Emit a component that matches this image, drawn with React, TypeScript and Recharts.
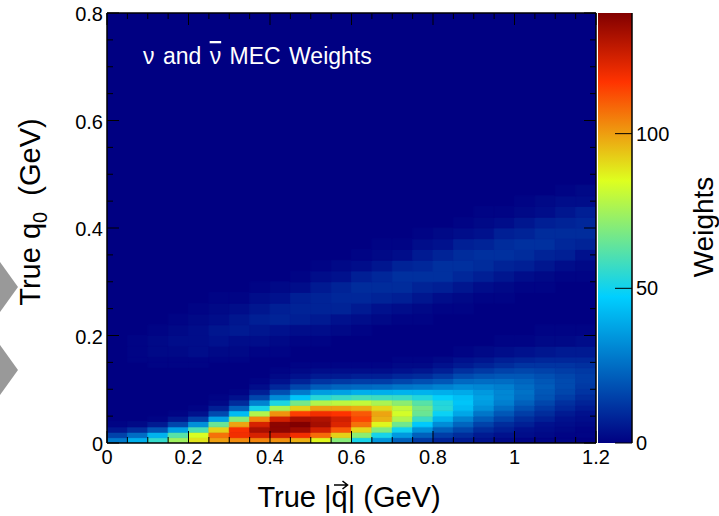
import React from "react";
import { ComposedChart, XAxis, YAxis, ReferenceArea, Scatter } from "recharts";

// bin edges of the 2D histogram (|q| across, q0 up)
const qEdges = [0, 0.05, 0.1, 0.15, 0.2, 0.25, 0.3, 0.35, 0.4, 0.45, 0.5, 0.55, 0.6, 0.65, 0.7, 0.75, 0.8, 0.85, 0.9, 0.95, 1, 1.05, 1.1, 1.15, 1.2];
const q0Edges = [
  0, 0.01, 0.02, 0.03, 0.04, 0.05, 0.06, 0.07, 0.08, 0.09, 0.1, 0.11, 0.12, 0.13, 0.14, 0.15, 0.16,
  0.18, 0.2, 0.22, 0.24, 0.26, 0.28, 0.3, 0.32, 0.34, 0.36, 0.38, 0.4, 0.42, 0.44, 0.46, 0.48,
];

// weights, one row per q0 bin (bottom first), one value per |q| bin
const weights = [
  [28, 40, 56, 74, 89, 100, 103, 104, 102, 97, 86, 70, 51, 34, 22, 13, 8, 6, 4, 2, 1, 1, 1, 0],
  [15, 25, 41, 62, 84, 107, 119, 124, 125, 119, 108, 92, 71, 51, 35, 22, 14, 10, 6, 4, 3, 2, 1, 1],
  [5, 10, 19, 37, 60, 92, 118, 132, 137, 134, 125, 111, 91, 69, 50, 33, 22, 16, 10, 7, 4, 3, 2, 1],
  [1, 2, 6, 16, 33, 65, 99, 124, 137, 139, 133, 123, 107, 86, 66, 46, 32, 23, 15, 10, 7, 4, 3, 2],
  [0, 0, 1, 5, 14, 37, 70, 104, 125, 132, 131, 125, 114, 97, 77, 57, 41, 30, 21, 15, 10, 7, 4, 3],
  [0, 0, 0, 1, 4, 17, 43, 77, 102, 115, 119, 117, 111, 99, 83, 65, 49, 38, 27, 20, 14, 10, 6, 4],
  [0, 0, 0, 0, 1, 7, 22, 51, 76, 92, 100, 100, 98, 91, 80, 67, 54, 43, 33, 25, 18, 13, 9, 6],
  [0, 0, 0, 0, 0, 2, 10, 30, 52, 67, 77, 79, 80, 76, 71, 62, 53, 45, 36, 29, 22, 16, 11, 8],
  [0, 0, 0, 0, 0, 1, 4, 16, 32, 45, 54, 57, 59, 58, 57, 53, 48, 44, 37, 31, 25, 19, 14, 10],
  [0, 0, 0, 0, 0, 0, 1, 7, 18, 28, 36, 37, 40, 40, 41, 41, 40, 39, 35, 31, 26, 20, 16, 12],
  [0, 0, 0, 0, 0, 0, 0, 3, 9, 16, 21, 23, 24, 25, 27, 28, 30, 32, 31, 29, 25, 21, 17, 13],
  [0, 0, 0, 0, 0, 0, 0, 1, 4, 8, 12, 13, 14, 14, 16, 18, 20, 24, 25, 25, 23, 20, 17, 14],
  [0, 0, 0, 0, 0, 0, 0, 0, 2, 4, 6, 6, 7, 7, 9, 10, 13, 17, 19, 20, 20, 18, 16, 14],
  [0, 0, 0, 0, 0, 0, 0, 0, 1, 2, 3, 3, 3, 3, 4, 5, 7, 11, 13, 15, 16, 15, 14, 13],
  [0, 0, 1, 1, 1, 0, 0, 0, 0, 1, 1, 1, 1, 1, 2, 2, 4, 6, 8, 10, 12, 12, 12, 11],
  [0, 1, 1, 1, 1, 1, 1, 0, 0, 0, 0, 0, 0, 0, 1, 1, 2, 4, 5, 7, 8, 9, 9, 9],
  [0, 1, 2, 2, 3, 2, 2, 1, 1, 0, 0, 0, 0, 0, 0, 0, 0, 1, 2, 3, 4, 5, 6, 6],
  [0, 1, 2, 3, 3, 4, 3, 3, 2, 1, 1, 0, 0, 0, 0, 0, 0, 0, 0, 1, 1, 2, 2, 3],
  [0, 0, 1, 2, 3, 5, 6, 5, 4, 3, 3, 2, 1, 0, 0, 0, 0, 0, 0, 0, 0, 1, 1, 1],
  [0, 0, 0, 1, 2, 3, 5, 7, 8, 7, 6, 4, 3, 2, 1, 1, 0, 0, 0, 0, 0, 0, 0, 0],
  [0, 0, 0, 0, 1, 2, 3, 5, 7, 8, 8, 8, 6, 4, 3, 2, 1, 1, 0, 0, 0, 0, 0, 0],
  [0, 0, 0, 0, 0, 1, 1, 3, 4, 7, 8, 9, 9, 8, 7, 5, 3, 2, 1, 1, 0, 0, 0, 0],
  [0, 0, 0, 0, 0, 0, 0, 1, 2, 3, 6, 8, 10, 10, 10, 8, 7, 5, 3, 2, 1, 1, 0, 0],
  [0, 0, 0, 0, 0, 0, 0, 0, 0, 1, 3, 4, 7, 9, 11, 11, 11, 9, 7, 5, 3, 2, 1, 1],
  [0, 0, 0, 0, 0, 0, 0, 0, 0, 0, 1, 2, 3, 5, 8, 9, 11, 11, 10, 8, 7, 5, 3, 2],
  [0, 0, 0, 0, 0, 0, 0, 0, 0, 0, 0, 0, 1, 2, 3, 6, 8, 10, 11, 11, 10, 8, 7, 4],
  [0, 0, 0, 0, 0, 0, 0, 0, 0, 0, 0, 0, 0, 1, 1, 3, 4, 7, 8, 10, 11, 11, 9, 8],
  [0, 0, 0, 0, 0, 0, 0, 0, 0, 0, 0, 0, 0, 0, 0, 1, 2, 3, 4, 7, 8, 10, 10, 10],
  [0, 0, 0, 0, 0, 0, 0, 0, 0, 0, 0, 0, 0, 0, 0, 0, 0, 1, 2, 3, 5, 7, 8, 9],
  [0, 0, 0, 0, 0, 0, 0, 0, 0, 0, 0, 0, 0, 0, 0, 0, 0, 0, 1, 1, 2, 3, 5, 7],
  [0, 0, 0, 0, 0, 0, 0, 0, 0, 0, 0, 0, 0, 0, 0, 0, 0, 0, 0, 0, 1, 2, 3, 3],
  [0, 0, 0, 0, 0, 0, 0, 0, 0, 0, 0, 0, 0, 0, 0, 0, 0, 0, 0, 0, 0, 0, 1, 2],
];

// axis ticks
const xTicks = [0, 0.05, 0.1, 0.15, 0.2, 0.25, 0.3, 0.35, 0.4, 0.45, 0.5, 0.55, 0.6, 0.65, 0.7, 0.75, 0.8, 0.85, 0.9, 0.95, 1, 1.05, 1.1, 1.15, 1.2];
const xMajor = [0, 0.2, 0.4, 0.6, 0.8, 1, 1.2];
const xLabels = ["0", "0.2", "0.4", "0.6", "0.8", "1", "1.2"];
const yTicks = [0, 0.05, 0.1, 0.15, 0.2, 0.25, 0.3, 0.35, 0.4, 0.45, 0.5, 0.55, 0.6, 0.65, 0.7, 0.75, 0.8];
const yMajor = [0, 0.2, 0.4, 0.6, 0.8];
const yLabels = ["0", "0.2", "0.4", "0.6", "0.8"];
const zTicks = [0, 50, 100];
const zLabels = ["0", "50", "100"];
const zMax = 139;

const FONT = "'Liberation Sans', Arial, Helvetica, sans-serif";

// ROOT-style rainbow palette
const palStops = [0, 0.34, 0.61, 0.84, 1];
const palR = [0, 0, 0.87, 1, 0.51];
const palG = [0, 0.81, 1, 0.2, 0];
const palB = [0.51, 1, 0.12, 0, 0];

function palColor(t: number) {
  const u = Math.max(0, Math.min(1, t));
  let i = 0;
  while (i < palStops.length - 2 && u > palStops[i + 1]) i++;
  const f = (u - palStops[i]) / (palStops[i + 1] - palStops[i]);
  const ch = (a: number[]) => Math.round(255 * (a[i] + (a[i + 1] - a[i]) * f));
  return `rgb(${ch(palR)},${ch(palG)},${ch(palB)})`;
}

const weightColor = (w: number) => palColor(w / zMax);

function labelFor(v: number, majors: number[], labels: string[]) {
  const i = majors.findIndex((m) => Math.abs(m - v) < 1e-6);
  return i >= 0 ? labels[i] : null;
}

// cell centres, used as the (invisible) series that carries the axes
const cellPoints = weights.flatMap((row, r) =>
  row.map((w, c) => ({ q: (qEdges[c] + qEdges[c + 1]) / 2, q0: (q0Edges[r] + q0Edges[r + 1]) / 2, w }))
);
const scalePoints = [
  { x: 0.5, z: 0 },
  { x: 0.5, z: zMax },
];

const NoShape = () => <g />;

const BottomTick = (props: any) => {
  const { x, y, payload } = props;
  const label = labelFor(payload.value, xMajor, xLabels);
  return (
    <g>
      <line x1={x} y1={y} x2={x} y2={y - (label ? 12 : 6)} stroke="#000" strokeWidth={1} />
      {label && (
        <text x={x} y={y + 21} textAnchor="middle" fontSize={20} fontFamily={FONT} fill="#000">
          {label}
        </text>
      )}
    </g>
  );
};

const TopTick = (props: any) => {
  const { x, y, payload } = props;
  const major = labelFor(payload.value, xMajor, xLabels);
  return <line x1={x} y1={y} x2={x} y2={y + (major ? 12 : 6)} stroke="#000" strokeWidth={1} />;
};

const LeftTick = (props: any) => {
  const { x, y, payload } = props;
  const label = labelFor(payload.value, yMajor, yLabels);
  return (
    <g>
      <line x1={x} y1={y} x2={x + (label ? 12 : 6)} y2={y} stroke="#000" strokeWidth={1} />
      {label && (
        <text x={x - 4} y={y + 8} textAnchor="end" fontSize={20} fontFamily={FONT} fill="#000">
          {label}
        </text>
      )}
    </g>
  );
};

const RightTick = (props: any) => {
  const { x, y, payload } = props;
  const major = labelFor(payload.value, yMajor, yLabels);
  return <line x1={x} y1={y} x2={x - (major ? 12 : 6)} y2={y} stroke="#000" strokeWidth={1} />;
};

const ZTick = (props: any) => {
  const { x, y, payload } = props;
  const label = labelFor(payload.value, zTicks, zLabels);
  return (
    <g>
      <line x1={x} y1={y} x2={x - 17} y2={y} stroke="#000" strokeWidth={1} />
      <text x={x + 4} y={y + 7} textAnchor="start" fontSize={20} fontFamily={FONT} fill="#000">
        {label}
      </text>
    </g>
  );
};

const axisLine = { stroke: "#000", strokeWidth: 1.5 };

export default function App() {
  const cells: React.ReactNode[] = [];
  weights.forEach((row, r) => {
    row.forEach((w, c) => {
      if (w <= 0) return;
      const col = weightColor(w);
      cells.push(
        <ReferenceArea
          key={`c-${r}-${c}`}
          x1={qEdges[c]}
          x2={qEdges[c + 1]}
          y1={q0Edges[r]}
          y2={q0Edges[r + 1]}
          fill={col}
          fillOpacity={1}
          stroke={col}
          strokeWidth={0.8}
          ifOverflow="hidden"
        />
      );
    });
  });

  return (
    <div style={{ position: "absolute", left: 0, top: 0, width: 719, height: 516, background: "#fff" }}>
      {/* main 2D histogram */}
      <div style={{ position: "absolute", left: 0, top: 0 }}>
        <ComposedChart width={719} height={516} margin={{ top: 12, right: 122, bottom: 72, left: 106 }}>
          <ReferenceArea x1={0} x2={1.2} y1={0} y2={0.8} fill={weightColor(0)} fillOpacity={1} ifOverflow="hidden" />
          {cells}
          <Scatter data={cellPoints} dataKey="q0" shape={NoShape} isAnimationActive={false} />
          <Scatter data={cellPoints} dataKey="q0" xAxisId="top" yAxisId="right" shape={NoShape} isAnimationActive={false} />
          <XAxis
            type="number"
            dataKey="q"
            domain={[0, 1.2]}
            ticks={xTicks}
            interval={0}
            height={1}
            tickSize={0}
            tickMargin={0}
            tickLine={false}
            axisLine={axisLine}
            tick={BottomTick}
            allowDataOverflow
          />
          <XAxis
            xAxisId="top"
            orientation="top"
            type="number"
            dataKey="q"
            domain={[0, 1.2]}
            ticks={xTicks}
            interval={0}
            height={1}
            tickSize={0}
            tickMargin={0}
            tickLine={false}
            axisLine={axisLine}
            tick={TopTick}
            allowDataOverflow
          />
          <YAxis
            type="number"
            dataKey="q0"
            domain={[0, 0.8]}
            ticks={yTicks}
            interval={0}
            width={1}
            tickSize={0}
            tickMargin={0}
            tickLine={false}
            axisLine={axisLine}
            tick={LeftTick}
            allowDataOverflow
          />
          <YAxis
            yAxisId="right"
            orientation="right"
            type="number"
            dataKey="q0"
            domain={[0, 0.8]}
            ticks={yTicks}
            interval={0}
            width={1}
            tickSize={0}
            tickMargin={0}
            tickLine={false}
            axisLine={axisLine}
            tick={RightTick}
            allowDataOverflow
          />
        </ComposedChart>
      </div>

      {/* colour scale */}
      <div style={{ position: "absolute", left: 560, top: 0 }}>
        <ComposedChart width={159} height={516} margin={{ top: 13, right: 86, bottom: 73, left: 38 }}>
          <defs>
            <linearGradient id="zpal" x1="0" y1="1" x2="0" y2="0">
              {palStops.map((s) => (
                <stop key={s} offset={s} stopColor={palColor(s)} />
              ))}
            </linearGradient>
          </defs>
          <ReferenceArea x1={0} x2={1} y1={0} y2={zMax} fill="url(#zpal)" fillOpacity={1} ifOverflow="hidden" />
          <Scatter data={scalePoints} dataKey="z" shape={NoShape} isAnimationActive={false} />
          <XAxis type="number" dataKey="x" domain={[0, 1]} hide allowDataOverflow />
          <YAxis
            orientation="right"
            type="number"
            dataKey="z"
            domain={[0, zMax]}
            ticks={zTicks}
            interval={0}
            width={1}
            tickSize={0}
            tickMargin={0}
            tickLine={false}
            axisLine={axisLine}
            tick={ZTick}
            allowDataOverflow
          />
        </ComposedChart>
      </div>

      {/* titles and annotation */}
      <svg width={719} height={516} style={{ position: "absolute", left: 0, top: 0, pointerEvents: "none" }}>
        <polygon points="0,262 18,287 0,312" fill="#999" />
        <polygon points="0,345 18,370 0,395" fill="#999" />
        <text x={143} y={64} fontSize={23} fontFamily={FONT} fill="#fff" wordSpacing={2}>
          ν and <tspan style={{ textDecoration: "overline" }}>ν</tspan> MEC Weights
        </text>
        <text x={349} y={507} textAnchor="middle" fontSize={29} fontFamily={FONT} fill="#000">
          True |q| (GeV)
        </text>
        {/* vector arrow over the q */}
        <path d="M334 485 H347 M342.5 481 L347.5 485 L342.5 489" fill="none" stroke="#000" strokeWidth={1.6} />
        <text transform="translate(40,212) rotate(-90)" textAnchor="middle" fontSize={29} fontFamily={FONT} fill="#000">
          True q
          <tspan dy={7} fontSize={20}>0</tspan>
          <tspan dy={-7}>{"\u00A0 (GeV)"}</tspan>
        </text>
        <text transform="translate(713,227) rotate(-90)" textAnchor="middle" fontSize={28} fontFamily={FONT} fill="#000">
          Weights
        </text>
      </svg>
    </div>
  );
}
